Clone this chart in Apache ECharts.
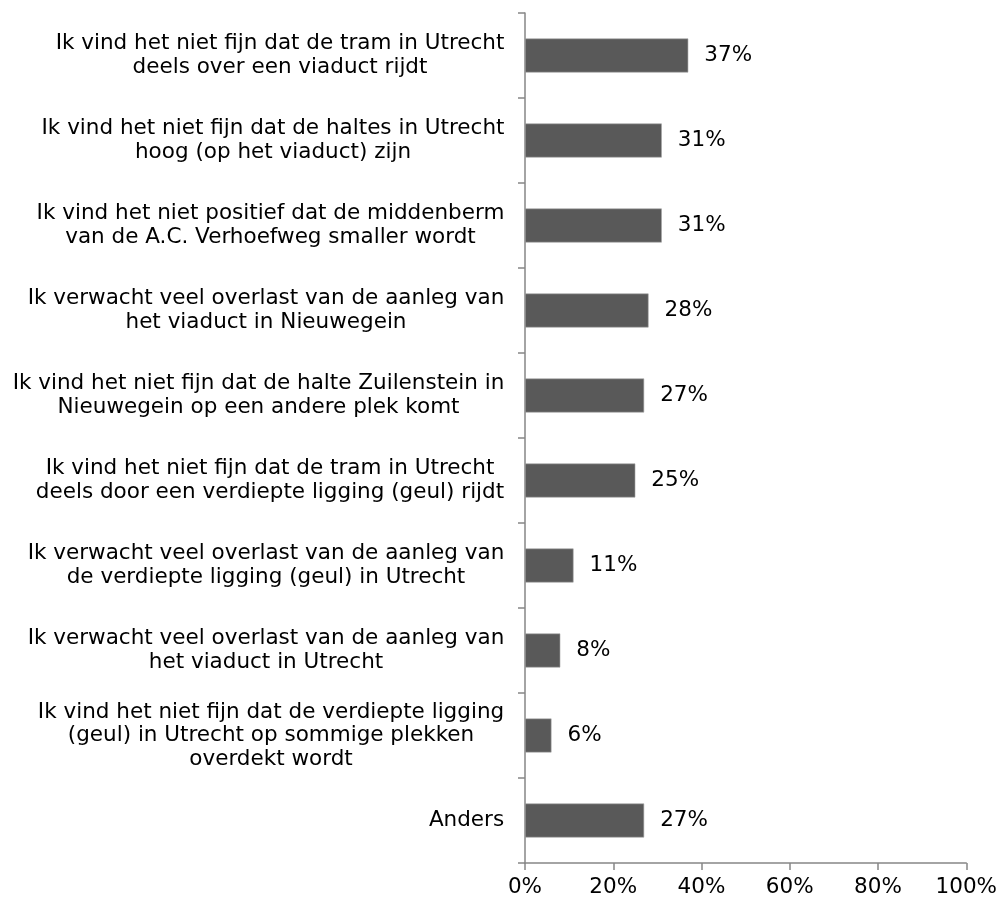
<!DOCTYPE html>
<html>
<head>
<meta charset="utf-8">
<script src="https://cdn.jsdelivr.net/npm/echarts@6/dist/echarts.min.js"></script>
<style>
html, body { margin: 0; padding: 0; background: #fff; }
#chart { width: 1000px; height: 902px; }
</style>
</head>
<body>
<div id="chart"></div>
<script>
// categories (top to bottom)
var categories = [
  'Ik vind het niet fijn dat de tram in Utrecht\ndeels over een viaduct rijdt',
  'Ik vind het niet fijn dat de haltes in Utrecht\nhoog (op het viaduct) zijn',
  'Ik vind het niet positief dat de middenberm\nvan de A.C. Verhoefweg smaller wordt',
  'Ik verwacht veel overlast van de aanleg van\nhet viaduct in Nieuwegein',
  'Ik vind het niet fijn dat de halte Zuilenstein in\nNieuwegein op een andere plek komt',
  'Ik vind het niet fijn dat de tram in Utrecht\ndeels door een verdiepte ligging (geul) rijdt',
  'Ik verwacht veel overlast van de aanleg van\nde verdiepte ligging (geul) in Utrecht',
  'Ik verwacht veel overlast van de aanleg van\nhet viaduct in Utrecht',
  'Ik vind het niet fijn dat de verdiepte ligging\n(geul) in Utrecht op sommige plekken\noverdekt wordt',
  'Anders'
];
var values = [37, 31, 31, 28, 27, 25, 11, 8, 6, 27];
var xTicks = [0, 20, 40, 60, 80, 100];

var fontFamily = '"DejaVu Sans", Verdana, sans-serif';
var fontSize = 21.5;

// width of widest line per label, so the lines can be centred in their block
var ctx = document.createElement('canvas').getContext('2d');
ctx.font = fontSize + 'px ' + fontFamily;
var rich = {};
categories.forEach(function (c, i) {
  var w = 0;
  c.split('\n').forEach(function (l) { w = Math.max(w, ctx.measureText(l).width); });
  rich['r' + i] = {
    width: Math.ceil(w) + 1,
    align: 'center',
    lineHeight: 23.5,
    fontSize: fontSize,
    fontFamily: fontFamily,
    color: '#000'
  };
});

var myChart = echarts.init(document.getElementById('chart'));
var option = {
  animation: false,
  grid: { left: 525, right: 32, top: 13, bottom: 39 },
  xAxis: {
    type: 'value',
    min: 0,
    max: 100,
    interval: 20,
    axisLine: { show: true, lineStyle: { color: '#868686', width: 1.5 } },
    axisTick: { show: true, length: 7, lineStyle: { color: '#868686', width: 1.5 } },
    splitLine: { show: false },
    axisLabel: {
      margin: 13,
      color: '#000',
      fontSize: fontSize,
      fontFamily: fontFamily,
      formatter: function (v) { return xTicks.indexOf(v) > -1 ? v + '%' : ''; }
    }
  },
  yAxis: {
    type: 'category',
    inverse: true,
    data: categories,
    axisLine: { show: true, lineStyle: { color: '#868686', width: 1.5 } },
    axisTick: { show: true, length: 7, lineStyle: { color: '#868686', width: 1.5 } },
    axisLabel: {
      margin: 20,
      align: 'right',
      rich: rich,
      formatter: function (v, i) { return '{r' + i + '|' + v + '}'; }
    }
  },
  series: [{
    type: 'bar',
    data: values,
    barWidth: '40%',
    itemStyle: { color: '#595959', borderColor: '#a6a6a6', borderWidth: 0.6 },
    label: {
      show: true,
      position: 'right',
      distance: 16,
      color: '#000',
      fontSize: fontSize,
      fontFamily: fontFamily,
      formatter: '{c}%'
    }
  }]
};
myChart.setOption(option);
</script>
</body>
</html>
